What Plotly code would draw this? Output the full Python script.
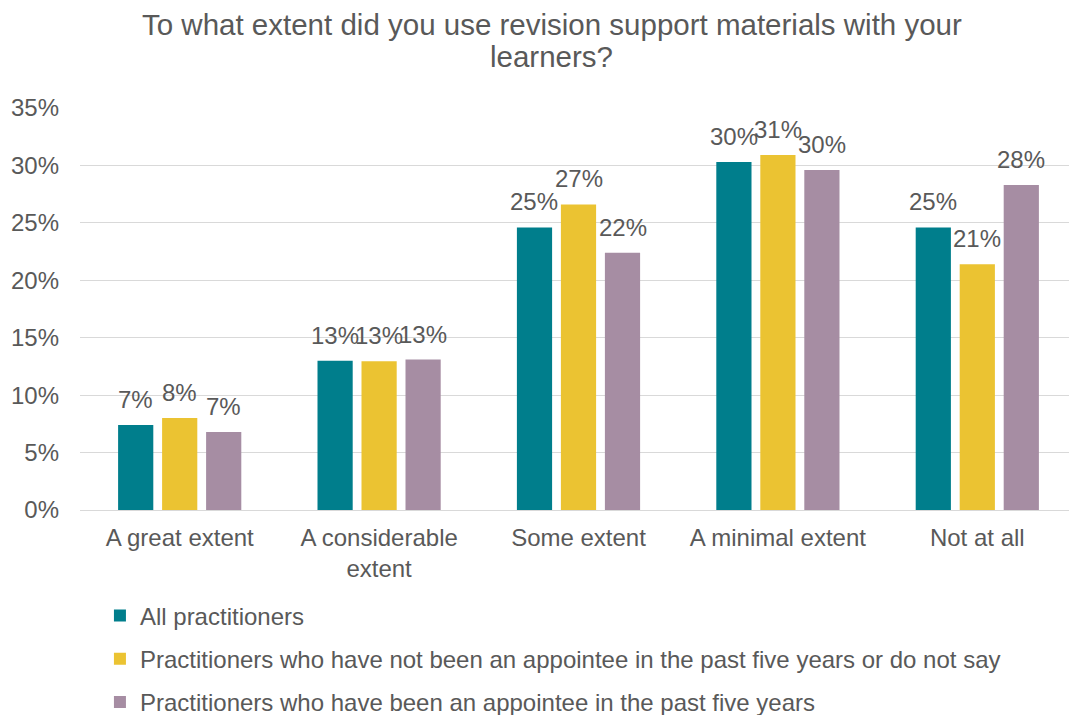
import plotly.graph_objects as go

categories = ["A great extent", "A considerable<br>extent", "Some extent", "A minimal extent", "Not at all"]
series_names = [
    "All practitioners",
    "Practitioners who have not been an appointee in the past five years or do not say",
    "Practitioners who have been an appointee in the past five years",
]
all_vals = [7.4, 13.0, 24.6, 30.3, 24.6]
not_appointee_vals = [8.0, 12.95, 26.6, 30.9, 21.4]
appointee_vals = [6.8, 13.1, 22.4, 29.6, 28.3]
colors = ["#007E8C", "#EBC332", "#A68DA3"]
tick_vals = [0, 5, 10, 15, 20, 25, 30, 35]
tick_text = ["0%", "5%", "10%", "15%", "20%", "25%", "30%", "35%"]
title_lines = ["To what extent did you use revision support materials with your", "learners?"]

font_family = "Liberation Sans, Arial, sans-serif"
text_color = "#595959"

W, H = 1069, 707
ML, MR = 72, 0
BARGAP = 0.338
BARGROUPGAP = 0.2
plot_w = W - ML - MR
slot_px = plot_w / len(categories) * (1 - BARGAP) / len(series_names)

fig = go.Figure()
all_series = [all_vals, not_appointee_vals, appointee_vals]
for i, (name, vals) in enumerate(zip(series_names, all_series)):
    fig.add_trace(go.Bar(
        x=categories, y=vals, name=name,
        marker=dict(color=colors[i], line=dict(width=0)),
        cliponaxis=False,
        legendgroup=f"g{i}",
    ))
    for cat, v in zip(categories, vals):
        fig.add_annotation(
            x=cat, y=v, xref="x", yref="y", text=f"{round(v):.0f}%",
            showarrow=False, xanchor="center", yanchor="bottom",
            xshift=(i - 1) * slot_px, yshift=10,
            font=dict(size=24, color=text_color, family=font_family),
        )

for line, ypos in zip(title_lines, [1.2065, 1.1269]):
    fig.add_annotation(text=line, xref="paper", yref="paper", x=0.4734, y=ypos,
                       xanchor="center", yanchor="middle", showarrow=False,
                       font=dict(size=29.5, color=text_color, family=font_family))

fig.update_layout(
    width=W, height=H,
    margin=dict(l=ML, r=MR, t=100, b=205, autoexpand=False),
    paper_bgcolor="white", plot_bgcolor="white",
    font=dict(family=font_family, color=text_color, size=24),
    barmode="group",
    bargap=BARGAP,
    bargroupgap=BARGROUPGAP,
    showlegend=True,
    legend=dict(
        orientation="v", x=0.020, xanchor="left", xref="paper",
        y=0.172, yanchor="top", yref="container",
        font=dict(size=24, color=text_color, family=font_family),
        tracegroupgap=9, itemwidth=30,
        bgcolor="rgba(0,0,0,0)",
    ),
)
fig.update_xaxes(
    showgrid=False, showline=True, linecolor="#D9D9D9", linewidth=1,
    tickfont=dict(size=24, color=text_color), ticks="", automargin=False,
    ticklabelstandoff=6,
)
fig.update_yaxes(
    range=[0, 35], tickvals=tick_vals, ticktext=tick_text,
    showgrid=True, gridcolor="#D9D9D9", gridwidth=1,
    zeroline=False, showline=False, ticks="", automargin=False,
    tickfont=dict(size=24, color=text_color), ticklabelstandoff=20,
)

fig.write_html("out.html")
